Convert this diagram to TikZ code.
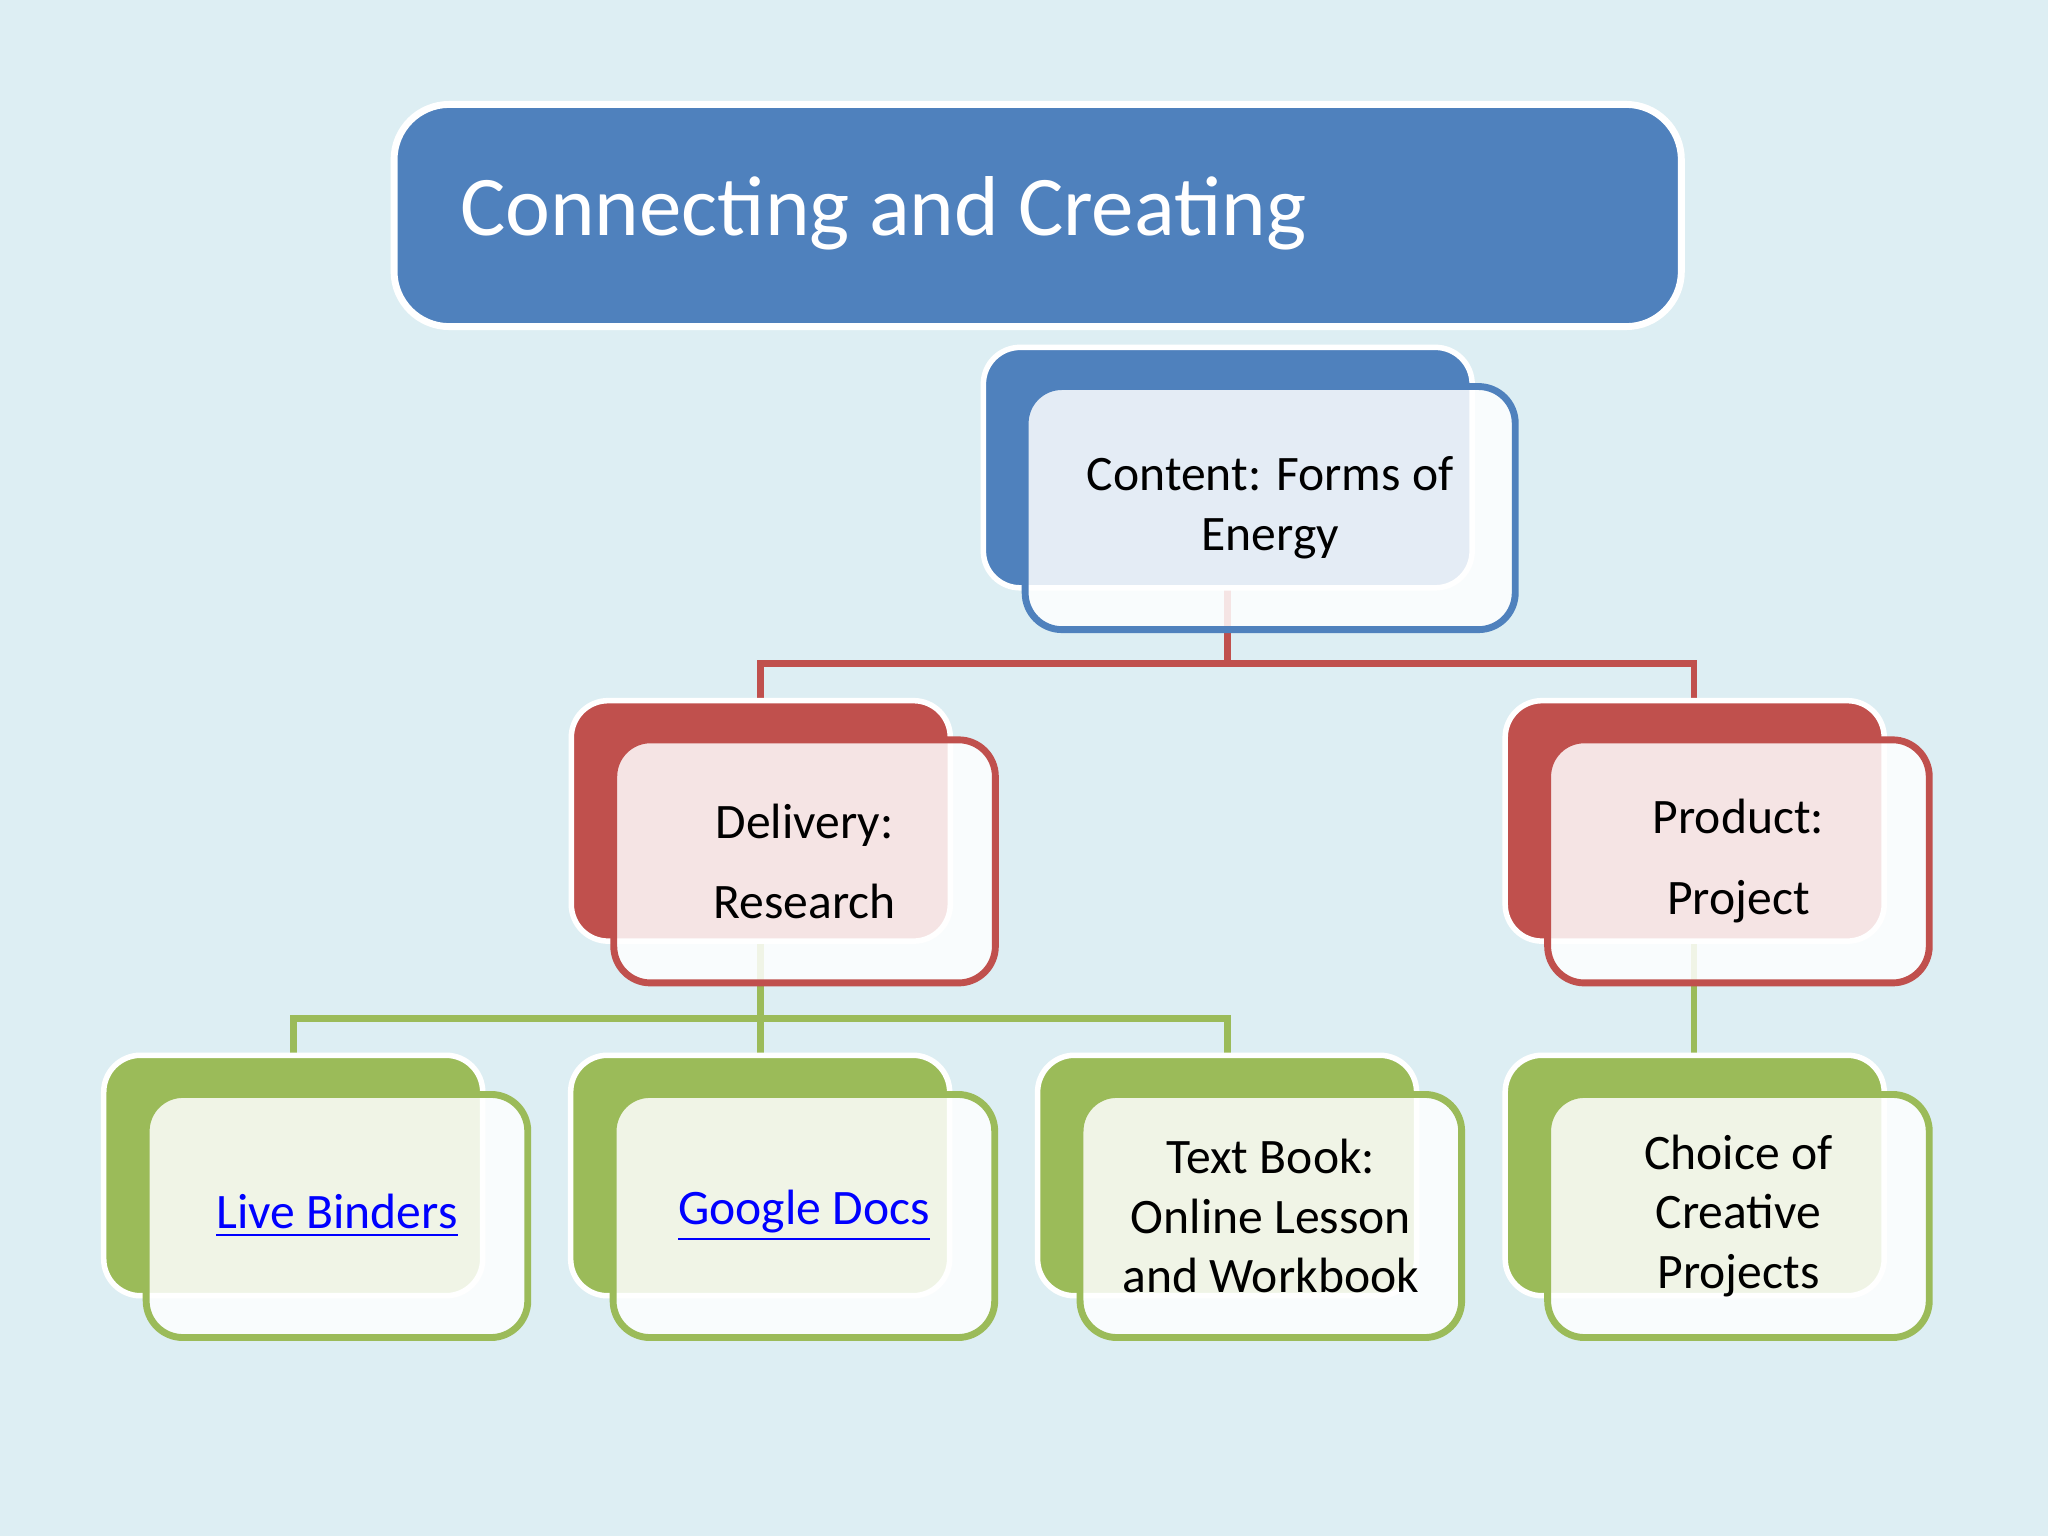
\documentclass[tikz,border=0pt]{standalone}
\usepackage{fontspec}
\setmainfont{Carlito}
\usepackage{xcolor}
\definecolor{bgc}{HTML}{DDEEF3}
\definecolor{blu}{HTML}{4F81BD}
\definecolor{rd}{HTML}{C0504D}
\definecolor{grn}{HTML}{9BBB59}
\definecolor{lnk}{HTML}{0000FF}
\begin{document}
\begin{tikzpicture}[x=0.01cm,y=-0.01cm,
  back/.style={draw=white,line width=1.2pt,rounded corners=8pt,inner sep=0pt,
    minimum width=2.9cm,minimum height=1.84cm},
  front/.style={line width=1.5pt,rounded corners=8pt,fill=white,fill opacity=0.85,
    text opacity=1,inner sep=0pt,minimum width=2.92cm,minimum height=1.86cm,
    align=center,font=\fontsize{10.8pt}{13pt}\selectfont},
  conn/.style={line width=1.5pt}]
\fill[bgc] (0,0) rectangle (1568,1176);
\useasboundingbox (0,0) rectangle (1568,1176);
% title
\node[draw=white,line width=1.5pt,fill=blu,rounded corners=12pt,minimum width=9.85cm,
  minimum height=1.7cm] (title) at (794.5,165) {};
\node[anchor=west,text=white,font=\fontsize{18.5pt}{22pt}\selectfont] (ttext) at (340,163) {Connecting and Creating};
% connectors
\coordinate (j1) at (940,508);
\coordinate (dtop) at (582,537);
\coordinate (ptop) at (1297,537);
\draw[conn,rd] (940,450) -- (j1) -| (dtop);
\draw[conn,rd] (j1) -| (ptop);
\coordinate (j2) at (582,780);
\draw[conn,grn] (582,720) -- (582,808);
\draw[conn,grn] (225,808) |- (j2) -| (940,808);
\draw[conn,grn] (1297,720) -- (1297,808);
% content
\node[back,fill=blu,minimum width=3.74cm] (cb) at (940,358) {};
\node[front,draw=blu,minimum width=3.75cm] (cf) at (972.5,389) {Content: Forms of\\Energy};
% delivery, product
\node[back,fill=rd] (db) at (582.5,628.5) {};
\node[front,draw=rd,font=\fontsize{10.8pt}{17.6pt}\selectfont] (df) at (616,659.5) {Delivery:\\Research};
\node[back,fill=rd] (pb) at (1297.5,628.5) {};
\node[front,draw=rd,font=\fontsize{10.8pt}{17.6pt}\selectfont] (pf) at (1331,659.5) {Product:\\Project};
% leaves
\node[back,fill=grn] (l1b) at (224.5,900) {};
\node[front,draw=grn,text=lnk] (l1f) at (258,931) {\underline{Live Binders}};
\node[back,fill=grn] (l2b) at (582,900) {};
\node[front,draw=grn,text=lnk] (l2f) at (615.5,931) {\underline{Google Docs}};
\node[back,fill=grn] (l3b) at (939.5,900) {};
\node[front,draw=grn] (l3f) at (973,931) {Text Book:\\Online Lesson\\and Workbook};
\node[back,fill=grn] (l4b) at (1297.5,900) {};
\node[front,draw=grn] (l4f) at (1331,931) {Choice of\\Creative\\Projects};
\end{tikzpicture}
\end{document}
